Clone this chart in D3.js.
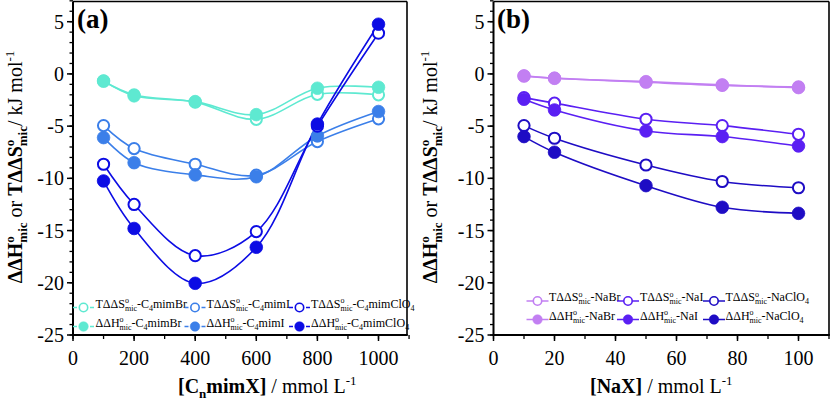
<!DOCTYPE html>
<html><head><meta charset="utf-8">
<script src="https://cdn.jsdelivr.net/npm/d3@7"></script>
<style>body{margin:0;background:#fff}svg{display:block}</style>
</head><body>
<svg id="c" width="830" height="401" font-family="'Liberation Serif', 'DejaVu Serif', serif"></svg>
<script>
// ---------- data ----------
const concA = [100, 200, 400, 600, 800, 1000];
const tdsBr   = [-0.7, -2.0, -2.7, -4.35, -1.95, -2.0];
const dhBr    = [-0.67, -2.1, -2.65, -3.9, -1.37, -1.28];
const tdsI    = [-4.95, -7.15, -8.65, -9.7, -6.48, -4.3];
const dhI     = [-6.1, -8.5, -9.67, -9.85, -5.94, -3.6];
const tdsClO4 = [-8.65, -12.5, -17.4, -15.1, -5.0, 3.9];
const dhClO4  = [-10.25, -14.8, -20.05, -16.6, -4.8, 4.76];

const concB = [10, 20, 50, 75, 100];
const tdsNaBr   = [-0.2, -0.4, -0.8, -1.1, -1.25];
const dhNaBr    = [-0.19, -0.42, -0.74, -1.05, -1.31];
const tdsNaI    = [-2.27, -2.8, -4.34, -4.95, -5.78];
const dhNaI     = [-2.43, -3.45, -5.46, -6.0, -6.9];
const tdsNaClO4 = [-4.95, -6.16, -8.72, -10.3, -10.9];
const dhNaClO4  = [-6.0, -7.5, -10.7, -12.77, -13.35];

const yMajor = [-25, -20, -15, -10, -5, 0, 5];
const yMinor = d3.range(-25, 8, 1);
const xMajorA = [0, 200, 400, 600, 800, 1000];
const xMinorA = d3.range(0, 1101, 100);
const xMajorB = [0, 20, 40, 60, 80, 100];
const xMinorB = d3.range(0, 111, 10);

const colA = {Br: "#5ee9d1", I: "#3b7fe9", ClO4: "#0c0ce4"};
const colB = {NaBr: "#c27ff2", NaI: "#5a1ff3", NaClO4: "#1e0cc4"};

const FONT = "'Liberation Serif', 'DejaVu Serif', serif";
const svg = d3.select("#c");

// text helper with sub/sup/stacked segments
function rich(sel, segs, fs, small, up, down) {
  let cur = 0;
  const ow = small * 0.5;
  segs.forEach(s => {
    const bold = s.b ? "bold" : "normal";
    if (s.k === "st") {
      sel.append("tspan").attr("dy", -up - cur).attr("font-size", small).attr("font-weight", bold).text("o");
      sel.append("tspan").attr("dx", -ow).attr("dy", up + down).attr("font-size", small).attr("font-weight", bold).text(s.t);
      cur = down;
    } else {
      const target = s.k === "sup" ? -up : s.k === "sub" ? down : 0;
      sel.append("tspan").attr("dy", target - cur).attr("font-size", s.k ? small : fs).attr("font-weight", bold).text(s.t);
      cur = target;
    }
  });
}

function panel(cfg) {
  const {x, y, left, right, top, bottom} = cfg;
  const g = svg.append("g").attr("font-family", FONT);
  // frame
  g.append("line").attr("x1", left).attr("x2", right).attr("y1", top).attr("y2", top).attr("stroke", "#000").attr("stroke-width", 1.6);
  g.append("line").attr("x1", right).attr("x2", right).attr("y1", top).attr("y2", bottom).attr("stroke", "#000").attr("stroke-width", 1.6);
  // y ticks
  yMinor.forEach(v => g.append("line").attr("x1", left - 3.5).attr("x2", left).attr("y1", y(v)).attr("y2", y(v)).attr("stroke", "#000").attr("stroke-width", 1.3));
  yMajor.forEach(v => {
    g.append("line").attr("x1", left - 6).attr("x2", left).attr("y1", y(v)).attr("y2", y(v)).attr("stroke", "#000").attr("stroke-width", 1.5);
    g.append("text").attr("x", left - 9).attr("y", y(v)).attr("dy", "0.35em").attr("text-anchor", "end").attr("font-size", 20).text(v);
  });
  // x ticks
  cfg.xMinor.forEach(v => g.append("line").attr("x1", x(v)).attr("x2", x(v)).attr("y1", bottom).attr("y2", bottom + 4).attr("stroke", "#000").attr("stroke-width", 1.3));
  cfg.xMajor.forEach(v => {
    g.append("line").attr("x1", x(v)).attr("x2", x(v)).attr("y1", bottom).attr("y2", bottom + 6).attr("stroke", "#000").attr("stroke-width", 1.5);
    g.append("text").attr("x", x(v)).attr("y", 365).attr("text-anchor", "middle").attr("font-size", 20).text(v);
  });
  g.append("line").attr("x1", left).attr("x2", left).attr("y1", top).attr("y2", bottom + 1).attr("stroke", "#000").attr("stroke-width", 2);
  g.append("line").attr("x1", left - 1).attr("x2", right + 0.8).attr("y1", bottom).attr("y2", bottom).attr("stroke", "#000").attr("stroke-width", 2);

  // series
  const line = d3.line().x(d => x(d[0])).y(d => y(d[1])).curve(d3.curveCatmullRom.alpha(0.5));
  cfg.series.forEach(s => {
    const pts = cfg.xs.map((c, i) => [c, s.v[i]]);
    g.append("path").attr("d", line(pts)).attr("fill", "none").attr("stroke", s.c).attr("stroke-width", 1.6);
  });
  cfg.series.forEach(s => {
    const pts = cfg.xs.map((c, i) => [c, s.v[i]]);
    g.selectAll(null).data(pts).enter().append("circle")
      .attr("cx", d => x(d[0])).attr("cy", d => y(d[1]))
      .attr("r", s.open ? 5.6 : 6.3)
      .attr("fill", s.open ? "#fff" : s.c)
      .attr("stroke", s.c).attr("stroke-width", s.open ? 2 : 0.8);
  });

  // legend
  cfg.legend.forEach(L => {
    if (cfg.dashed) {
      g.append("line").attr("x1", L.mx - 10.5).attr("x2", L.mx - 6.5).attr("y1", L.my).attr("y2", L.my).attr("stroke", L.c).attr("stroke-width", 1.5);
      g.append("line").attr("x1", L.mx + 6.5).attr("x2", L.mx + 10.5).attr("y1", L.my).attr("y2", L.my).attr("stroke", L.c).attr("stroke-width", 1.5);
    } else {
      g.append("line").attr("x1", L.mx - 11).attr("x2", L.mx + 11).attr("y1", L.my).attr("y2", L.my).attr("stroke", L.c).attr("stroke-width", 1.5);
    }
    g.append("circle").attr("cx", L.mx).attr("cy", L.my).attr("r", L.open ? 4.2 : 4.8)
      .attr("fill", L.open ? "#fff" : L.c).attr("stroke", L.c).attr("stroke-width", L.open ? 1.6 : 0.5);
    const t = g.append("text").attr("x", L.tx).attr("y", L.my).attr("dy", "0.35em").attr("font-size", 12);
    rich(t, L.segs, 12, 8, 4.5, 3);
  });

  // panel label
  g.append("text").attr("x", cfg.labX).attr("y", 28).attr("font-size", 27).attr("font-weight", "bold").text(cfg.lab);

  // y label
  const yl = g.append("text").attr("transform", `translate(${cfg.ylx},167) rotate(-90)`).attr("text-anchor", "middle").attr("font-size", 20);
  rich(yl, [
    {t: "ΔΔH", b: 1}, {t: "mic", k: "st", b: 1}, {t: " or "}, {t: "TΔΔS", b: 1}, {t: "mic", k: "st", b: 1},
    {t: "/ kJ mol"}, {t: "-1", k: "sup"}
  ], 20, 13, 8, 5);

  // x label
  const xl = g.append("text").attr("x", cfg.xlx).attr("y", 393).attr("font-size", 20);
  rich(xl, cfg.xlab, 20, 13, 8, 5);
}

function legSegs(pre, name) {
  const base = pre === "S" ? [{t: "TΔΔS"}, {t: "mic", k: "st"}] : [{t: "ΔΔH"}, {t: "mic", k: "st"}];
  return base.concat(name);
}
const nA = {
  Br: [{t: "-C"}, {t: "4", k: "sub"}, {t: "mimBr"}],
  I: [{t: "-C"}, {t: "4", k: "sub"}, {t: "mimI"}],
  ClO4: [{t: "-C"}, {t: "4", k: "sub"}, {t: "mimClO"}, {t: "4", k: "sub"}]
};
const nB = {
  NaBr: [{t: "-NaBr"}],
  NaI: [{t: "-NaI"}],
  NaClO4: [{t: "-NaClO"}, {t: "4", k: "sub"}]
};

const yA = d3.scaleLinear().domain([-25, 5]).range([335, 21.7]);
const xA = d3.scaleLinear().domain([0, 1000]).range([73, 378.5]);
const xB = d3.scaleLinear().domain([0, 100]).range([493.5, 798.5]);

const colXA = [{m: 83.5, t: 95.5}, {m: 195, t: 206.5}, {m: 299.5, t: 311}];
const keysA = ["Br", "I", "ClO4"];
const legA = [];
keysA.forEach((k, i) => {
  legA.push({mx: colXA[i].m, tx: colXA[i].t, my: 307.5, c: colA[k], open: true, segs: legSegs("S", nA[k])});
  legA.push({mx: colXA[i].m, tx: colXA[i].t, my: 326.5, c: colA[k], open: false, segs: legSegs("H", nA[k])});
});
panel({
  x: xA, y: yA, left: 73, right: 407, top: 1.5, bottom: 335,
  xMajor: xMajorA, xMinor: xMinorA, xs: concA, dashed: true,
  series: [
    {v: tdsBr, c: colA.Br, open: true}, {v: dhBr, c: colA.Br, open: false},
    {v: tdsI, c: colA.I, open: true}, {v: dhI, c: colA.I, open: false},
    {v: tdsClO4, c: colA.ClO4, open: true}, {v: dhClO4, c: colA.ClO4, open: false}
  ],
  legend: legA, lab: "(a)", labX: 77, ylx: 22, xlx: 178,
  xlab: [{t: "[C", b: 1}, {t: "n", k: "sub", b: 1}, {t: "mimX]", b: 1}, {t: " / mmol L"}, {t: "-1", k: "sup"}]
});

const colXB = [{m: 537.5, t: 549}, {m: 628, t: 640}, {m: 714, t: 725.5}];
const keysB = ["NaBr", "NaI", "NaClO4"];
const legB = [];
keysB.forEach((k, i) => {
  legB.push({mx: colXB[i].m, tx: colXB[i].t, my: 301, c: colB[k], open: true, segs: legSegs("S", nB[k])});
  legB.push({mx: colXB[i].m, tx: colXB[i].t, my: 319.5, c: colB[k], open: false, segs: legSegs("H", nB[k])});
});
panel({
  x: xB, y: yA, left: 493.5, right: 829, top: 1.5, bottom: 335,
  xMajor: xMajorB, xMinor: xMinorB, xs: concB, dashed: false,
  series: [
    {v: tdsNaBr, c: colB.NaBr, open: true}, {v: dhNaBr, c: colB.NaBr, open: false},
    {v: tdsNaI, c: colB.NaI, open: true}, {v: dhNaI, c: colB.NaI, open: false},
    {v: tdsNaClO4, c: colB.NaClO4, open: true}, {v: dhNaClO4, c: colB.NaClO4, open: false}
  ],
  legend: legB, lab: "(b)", labX: 497, ylx: 437, xlx: 590,
  xlab: [{t: "[NaX]", b: 1}, {t: " / mmol L"}, {t: "-1", k: "sup"}]
});
</script>
</body></html>
